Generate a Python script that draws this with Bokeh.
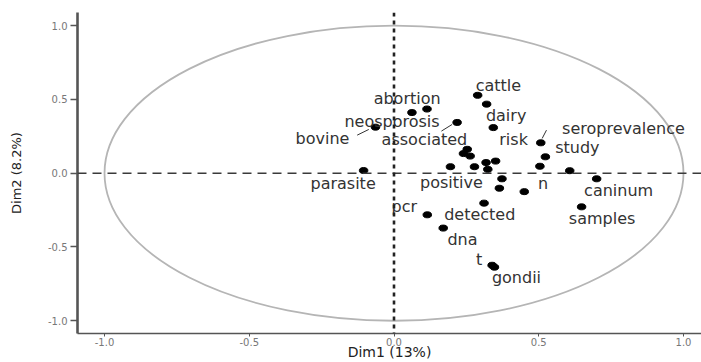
from bokeh.plotting import figure
from bokeh.models import Range1d, Span, FixedTicker, ColumnDataSource
from bokeh.core.properties import value
from bokeh.embed import file_html
from bokeh.resources import INLINE

# ---- data: variable coordinates on Dim1 / Dim2 ----
words = ["cattle", "dairy", "abortion", "neosporosis", "associated", "risk",
         "bovine", "seroprevalence", "study", "parasite", "positive", "n",
         "caninum", "samples", "pcr", "detected", "dna", "t", "gondii"]
word_x = [0.289, 0.320, 0.062, 0.114, 0.218, 0.343, -0.064, 0.507, 0.523,
          -0.105, 0.195, 0.504, 0.700, 0.648, 0.115, 0.311, 0.170, 0.339, 0.347]
word_y = [0.528, 0.468, 0.411, 0.435, 0.344, 0.309, 0.312, 0.206, 0.111,
          0.018, 0.044, 0.047, -0.038, -0.228, -0.282, -0.203, -0.372, -0.624, -0.637]
# variables whose labels were hidden (overlap)
other_x = [0.253, 0.240, 0.263, 0.318, 0.351, 0.278, 0.324, 0.607, 0.373, 0.364, 0.450]
other_y = [0.162, 0.133, 0.116, 0.072, 0.082, 0.044, 0.026, 0.017, -0.038, -0.102, -0.125]

tick_vals = [-1.0, -0.5, 0.0, 0.5, 1.0]
tick_labels = ["-1.0", "-0.5", "0.0", "0.5", "1.0"]
x_title = "Dim1 (13%)"
y_title = "Dim2 (8.2%)"

# ---- layout: label offsets in screen pixels (dx right, dy down) ----
lab_dx = [20.7, 19.5, -4.8, -35, -32.7, 20.3, -53, 82.7, 32, -20.5, 1, 3.2,
          22, 20.5, -23, -4.3, 19.3, -13, 22]
lab_dy = [-10, 11.5, -14, 12.2, 16.7, 11.5, 11.3, -14.4, -9.4, 12.5, 15.6, 17,
          11.2, 11.3, -8.3, 11, 11.7, -6, 10.8]

X0, X1 = -1.0933, 1.0622
Y0, Y1 = -1.0865, 1.0892
FRAME_W, FRAME_H = 624, 322
px_x = FRAME_W / (X1 - X0)
px_y = FRAME_H / (Y1 - Y0)

p = figure(width=701, height=362, output_backend="svg", toolbar_location=None,
           x_range=Range1d(X0, X1), y_range=Range1d(Y0, Y1),
           min_border_left=77, min_border_right=0, min_border_top=12,
           min_border_bottom=28)
p.outline_line_color = None
p.xgrid.visible = False
p.ygrid.visible = False
p.background_fill_color = "white"
p.border_fill_color = "white"

# correlation circle
p.ellipse(x=[0], y=[0], width=[2], height=[2], fill_color=None,
          line_color="#b5b5b5", line_width=1.8)

# reference lines
p.add_layout(Span(location=0, dimension="width", line_color="#3a3a3a",
                  line_width=1.4, line_dash="9 6"))
p.add_layout(Span(location=0, dimension="height", line_color="#222222",
                  line_width=2.6, line_dash="4 4"))

# leader lines (word index, start px, end px relative to point)
leaders = {4: (-15.7, 8.7, -5, 2), 6: (-18.3, 8, -6.7, 2.3), 7: (1.4, -4.4, 5.7, -12.7)}
sx0, sy0, sx1, sy1 = [], [], [], []
for i, (a, b, c, d) in leaders.items():
    sx0.append(word_x[i] + a / px_x)
    sy0.append(word_y[i] - b / px_y)
    sx1.append(word_x[i] + c / px_x)
    sy1.append(word_y[i] - d / px_y)
p.segment(x0=sx0, y0=sy0, x1=sx1, y1=sy1, line_color="#333333", line_width=1)

# points
all_x = word_x + other_x
all_y = word_y + other_y
p.ellipse(x=all_x, y=all_y, width=8.5, height=6, width_units="screen",
          height_units="screen", fill_color="black", line_color="black")

# labels
src = ColumnDataSource(dict(x=word_x, y=word_y, t=words, dx=lab_dx, dy=lab_dy))
p.text(x="x", y="y", text="t", x_offset="dx", y_offset="dy", source=src,
       text_align="center", text_baseline="middle",
       text_font=value("DejaVu Sans"), text_font_size="16px",
       text_color="#333333")

# axes
for ax in (p.xaxis[0], p.yaxis[0]):
    ax.ticker = FixedTicker(ticks=tick_vals)
    ax.major_label_overrides = {v: s for v, s in zip(tick_vals, tick_labels)}
    ax.minor_tick_line_color = None
    ax.axis_line_color = "#555555"
    ax.major_tick_line_color = "#555555"
    ax.major_label_text_color = "#777777"
    ax.major_label_text_font = "DejaVu Sans"
    ax.major_label_text_font_size = "10px"
    ax.axis_label_text_font = "DejaVu Sans"
    ax.axis_label_text_font_style = "normal"
    ax.axis_label_text_color = "#222222"
    ax.major_tick_in = 0

p.xaxis.axis_label = x_title
p.yaxis.axis_label = y_title
p.xaxis.axis_line_width = 1.4
p.xaxis.major_tick_out = 3
p.xaxis.major_label_standoff = 1
p.xaxis.axis_label_standoff = -5
p.xaxis.axis_label_text_font_size = "14px"
p.yaxis.axis_line_width = 2.6
p.yaxis.major_tick_line_width = 1.4
p.yaxis.major_tick_out = 7
p.yaxis.major_label_standoff = 3
p.yaxis.axis_label_standoff = 21
p.yaxis.axis_label_text_font_size = "13px"

open("out.html", "w").write(file_html(p, INLINE))
